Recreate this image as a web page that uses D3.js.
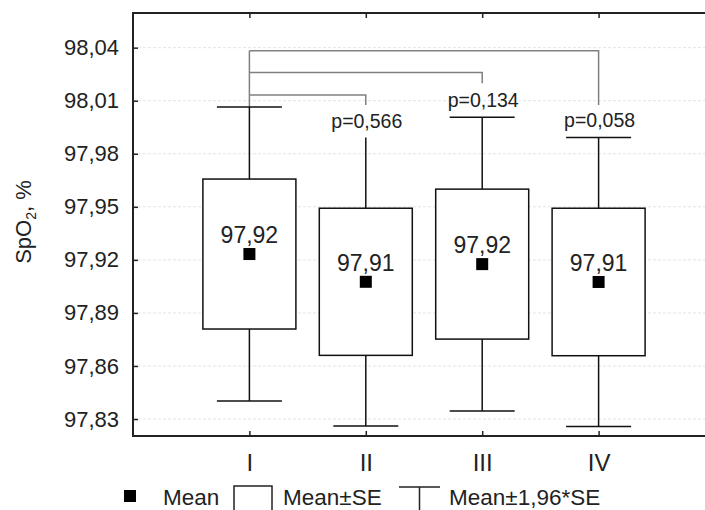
<!DOCTYPE html>
<html>
<meta charset="utf-8">
<script src="https://d3js.org/d3.v7.min.js"></script>
<style>
  body { margin: 0; background: #fff; }
  text { font-family: "Liberation Sans", Arial, sans-serif; fill: #222; }
</style>
<body>
<div id="chart"></div>
<script>

// groups and their statistics
var groups = ["I", "II", "III", "IV"];
var means = [97.9233, 97.9076, 97.9176, 97.9075];
var se = [0.0424, 0.0416, 0.0424, 0.0417];
var meanLabels = ["97,92", "97,91", "97,92", "97,91"];

// comparisons against group I
var pTargets = ["II", "III", "IV"];
var pValues = ["p=0,566", "p=0,134", "p=0,058"];
var bracketLevels = [98.0132, 98.0259, 98.0383];   // height of each bracket
var bracketDrops = [98.0076, 98.0199, 98.0076];    // where the right leg stops

var yTicks = [97.83, 97.86, 97.89, 97.92, 97.95, 97.98, 98.01, 98.04];

var loc = d3.formatLocale({decimal: ",", thousands: " ", grouping: [3], currency: ["", ""]});
var fmt = loc.format(".2f");

var width = 705, height = 510;
var frame = {left: 133, right: 715, top: 13, bottom: 436};

var svg = d3.select("#chart").append("svg")
  .attr("width", width)
  .attr("height", height);

var x = d3.scalePoint()
  .domain(groups)
  .range([frame.left, frame.right])
  .padding(1);

var y = d3.scaleLinear()
  .domain([97.8204, 98.0596])
  .range([frame.bottom, frame.top]);

// faint grid
svg.append("g")
  .selectAll("line")
  .data(yTicks)
  .enter().append("line")
    .attr("x1", frame.left).attr("x2", width)
    .attr("y1", function(d) { return y(d); })
    .attr("y2", function(d) { return y(d); })
    .attr("stroke", "#e4e4e4")
    .attr("stroke-dasharray", "3,2");

// axes (ticks point inwards)
var yAxis = svg.append("g")
  .attr("transform", "translate(" + frame.left + ",0)")
  .call(d3.axisLeft(y).tickValues(yTicks).tickFormat(fmt).tickSizeInner(-5).tickSizeOuter(0).tickPadding(14));
yAxis.select(".domain").remove();
yAxis.selectAll("line").attr("stroke", "#222").attr("stroke-width", 1.5);
yAxis.selectAll("text").style("font-size", "22px").attr("fill", "#222");

var xAxis = svg.append("g")
  .attr("transform", "translate(0," + frame.bottom + ")")
  .call(d3.axisBottom(x).tickSizeInner(-5).tickSizeOuter(0).tickPadding(18));
xAxis.select(".domain").remove();
xAxis.selectAll("line").attr("stroke", "#222").attr("stroke-width", 1.5);
xAxis.selectAll("text").style("font-size", "24px").attr("fill", "#222");

var topAxis = svg.append("g")
  .attr("transform", "translate(0," + frame.top + ")")
  .call(d3.axisTop(x).tickSizeInner(-5).tickSizeOuter(0).tickFormat(""));
topAxis.select(".domain").remove();
topAxis.selectAll("line").attr("stroke", "#222").attr("stroke-width", 1.5);

// frame
svg.append("rect")
  .attr("x", frame.left).attr("y", frame.top)
  .attr("width", frame.right - frame.left)
  .attr("height", frame.bottom - frame.top)
  .attr("fill", "none")
  .attr("stroke", "#222")
  .attr("stroke-width", 2);

// y title
var yt = svg.append("text")
  .attr("transform", "translate(31,222) rotate(-90)")
  .attr("text-anchor", "middle")
  .style("font-size", "22px");
yt.append("tspan").text("SpO");
yt.append("tspan").text("2").style("font-size", "14px").attr("dy", 5);
yt.append("tspan").text(", %").attr("dy", -5);

// brackets
var x0 = x(groups[0]);
svg.append("line")
  .attr("x1", x0).attr("x2", x0)
  .attr("y1", y(d3.max(bracketLevels)))
  .attr("y2", y(means[0] + 1.96 * se[0]))
  .attr("stroke", "#808080").attr("stroke-width", 1.5);

svg.append("g").selectAll("path")
  .data(pTargets)
  .enter().append("path")
    .attr("d", function(d, i) {
      return "M" + x0 + "," + y(bracketLevels[i]) +
             "H" + x(d) + "V" + y(bracketDrops[i]);
    })
    .attr("fill", "none")
    .attr("stroke", "#808080")
    .attr("stroke-width", 1.5);

// whiskers and boxes
var boxW = 93, capW = 65;
var capShown = [true, false, true, true];

var g = svg.append("g").selectAll("g")
  .data(groups)
  .enter().append("g");

g.append("line")
  .attr("x1", function(d) { return x(d); })
  .attr("x2", function(d) { return x(d); })
  .attr("y1", function(d, i) { return y(means[i] + 1.96 * se[i]); })
  .attr("y2", function(d, i) { return y(means[i] - 1.96 * se[i]); })
  .attr("stroke", "#111").attr("stroke-width", 1.5);

g.append("line")
  .filter(function(d, i) { return capShown[i]; })
  .attr("x1", function(d) { return x(d) - capW / 2; })
  .attr("x2", function(d) { return x(d) + capW / 2; })
  .attr("y1", function(d) { var i = groups.indexOf(d); return y(means[i] + 1.96 * se[i]); })
  .attr("y2", function(d) { var i = groups.indexOf(d); return y(means[i] + 1.96 * se[i]); })
  .attr("stroke", "#111").attr("stroke-width", 1.5);

g.append("line")
  .attr("x1", function(d) { return x(d) - capW / 2; })
  .attr("x2", function(d) { return x(d) + capW / 2; })
  .attr("y1", function(d, i) { return y(means[i] - 1.96 * se[i]); })
  .attr("y2", function(d, i) { return y(means[i] - 1.96 * se[i]); })
  .attr("stroke", "#111").attr("stroke-width", 1.5);

g.append("rect")
  .attr("x", function(d) { return x(d) - boxW / 2; })
  .attr("width", boxW)
  .attr("y", function(d, i) { return y(means[i] + se[i]); })
  .attr("height", function(d, i) { return y(means[i] - se[i]) - y(means[i] + se[i]); })
  .attr("fill", "#fff")
  .attr("stroke", "#111").attr("stroke-width", 1.5);

g.append("rect")
  .attr("x", function(d) { return x(d) - 6; })
  .attr("y", function(d, i) { return y(means[i]) - 6; })
  .attr("width", 12).attr("height", 12)
  .attr("fill", "#000");

g.append("text")
  .attr("x", function(d) { return x(d); })
  .attr("y", function(d, i) { return y(means[i]) - 11; })
  .attr("text-anchor", "middle")
  .style("font-size", "23px")
  .text(function(d, i) { return meanLabels[i]; });

// p-values above whiskers
svg.append("g").selectAll("text")
  .data(pTargets)
  .enter().append("text")
    .attr("x", function(d) { return x(d) + 1; })
    .attr("y", function(d, i) {
      var k = groups.indexOf(d);
      return y(means[k] + 1.96 * se[k]) - 10;
    })
    .attr("text-anchor", "middle")
    .style("font-size", "19.5px")
    .text(function(d, i) { return pValues[i]; });

// legend
var lg = svg.append("g");
lg.append("rect").attr("x", 124).attr("y", 490).attr("width", 12).attr("height", 12).attr("fill", "#000");
lg.append("text").attr("x", 163).attr("y", 505).style("font-size", "22.5px").text("Mean");
lg.append("rect").attr("x", 234).attr("y", 486).attr("width", 38).attr("height", 30)
  .attr("fill", "#fff").attr("stroke", "#222").attr("stroke-width", 1.5);
lg.append("text").attr("x", 283).attr("y", 505).style("font-size", "22.5px").text("Mean±SE");
lg.append("path").attr("d", "M399,487H440M419.5,487V520")
  .attr("fill", "none").attr("stroke", "#222").attr("stroke-width", 1.5);
lg.append("text").attr("x", 449).attr("y", 505).style("font-size", "22.5px").text("Mean±1,96*SE");

</script>
</body>
</html>
